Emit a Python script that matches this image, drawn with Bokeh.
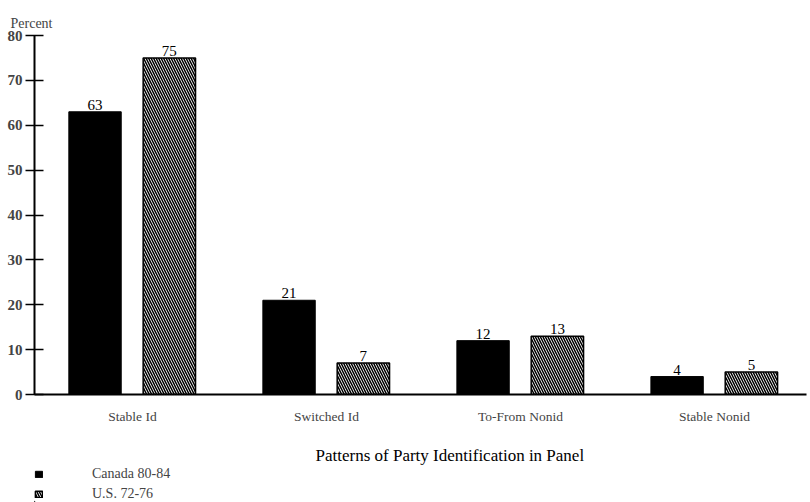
from bokeh.plotting import figure
from bokeh.layouts import column
from bokeh.models import ColumnDataSource, Range1d, FixedTicker, Legend, LegendItem, Label
from bokeh.transform import dodge
from bokeh.core.properties import value
from bokeh.embed import file_html
from bokeh.resources import INLINE

categories = ["Stable Id", "Switched Id", "To-From Nonid", "Stable Nonid"]
canada = [63, 21, 12, 4]
us = [75, 7, 13, 5]
series_names = ["Canada 80-84", "U.S. 72-76"]
y_ticks = [0, 10, 20, 30, 40, 50, 60, 70, 80]
x_title = "Patterns of Party Identification in Panel"

FONT = "Liberation Serif"
idx = list(range(len(categories)))
src = ColumnDataSource(dict(
    x=idx, canada=canada, us=us,
    canada_txt=[str(v) for v in canada], us_txt=[str(v) for v in us],
))

CAN_STYLE = dict(fill_color="black", line_color="black", line_width=1)
US_STYLE = dict(fill_color="white", line_color="black", line_width=1.5,
                hatch_pattern="\\", hatch_color="black", hatch_scale=5, hatch_weight=1.5)

H1 = 426
p = figure(width=810, height=H1, output_backend="svg", toolbar_location=None,
           x_range=Range1d(-0.505, 3.474), y_range=Range1d(0, 80),
           min_border_left=34, min_border_right=4, min_border_top=35, min_border_bottom=32)
p.outline_line_color = None
p.grid.visible = False

p.title.text = "Percent"
p.title.align = "left"
p.title.offset = -24
p.title.text_font = FONT
p.title.text_font_size = "14px"
p.title.text_font_style = "normal"
p.title.standoff = 10

p.vbar(x=dodge("x", -0.193, range=p.x_range), top="canada", width=0.27, source=src, **CAN_STYLE)
p.vbar(x=dodge("x", 0.19, range=p.x_range), top="us", width=0.27, source=src, **US_STYLE)

p.text(x=dodge("x", -0.193, range=p.x_range), y="canada", text="canada_txt", source=src,
       text_align="center", text_baseline="bottom", y_offset=-2,
       text_font=value(FONT), text_font_size="15px", text_color="black")
p.text(x=dodge("x", 0.19, range=p.x_range), y="us", text="us_txt", source=src,
       text_align="center", text_baseline="bottom", y_offset=-2,
       text_font=value(FONT), text_font_size="15px", text_color="black")

# y axis
ya = p.yaxis[0]
ya.ticker = FixedTicker(ticks=y_ticks)
ya.major_tick_in = 9
ya.major_tick_out = 9
ya.minor_tick_line_color = None
ya.axis_line_width = 2
ya.major_tick_line_width = 1.5
ya.major_label_text_font = FONT
ya.major_label_text_font_size = "15px"
ya.major_label_text_font_style = "bold"
ya.major_label_standoff = 3

# x axis
xa = p.xaxis[0]
xa.ticker = FixedTicker(ticks=idx)
xa.major_label_overrides = {i: c for i, c in zip(idx, categories)}
xa.major_tick_line_color = None
xa.minor_tick_line_color = None
xa.axis_line_width = 2
xa.major_label_text_font = FONT
xa.major_label_text_font_size = "13.5px"
xa.major_label_standoff = 8

# strip below the chart: axis title and legend
# (its frame is aligned with the main frame: x in page pixels 34..806, y pixels from bottom)
H2 = 502 - H1
p2 = figure(width=810, height=H2, output_backend="svg", toolbar_location=None,
            x_range=Range1d(34, 806), y_range=Range1d(0, H2), x_axis_type=None, y_axis_type=None,
            min_border=0, min_border_left=34, min_border_right=4, min_border_top=0, min_border_bottom=0)
p2.outline_line_color = None
p2.grid.visible = False
p2.add_layout(Label(x=315, y=H2 - 29, text=x_title, text_baseline="middle", text_align="left",
                    text_font=FONT, text_font_size="17px", text_color="black"))
# legend swatches: one off-screen bar each so the legend has a glyph to draw
dummy = ColumnDataSource(dict(x=[-1000], top=[1]))
l1 = p2.vbar(x="x", top="top", width=1, source=dummy, **CAN_STYLE)
l2 = p2.vbar(x="x", top="top", width=1, source=dummy, **US_STYLE)
legend = Legend(items=[LegendItem(label=series_names[0], renderers=[l1]),
                       LegendItem(label=series_names[1], renderers=[l2])],
                location=(0, 0), orientation="vertical",
                glyph_width=9, glyph_height=8, label_standoff=49, spacing=4,
                padding=0, margin=0, border_line_color=None, background_fill_alpha=0,
                label_text_font=FONT, label_text_font_size="14px", label_height=16)
p2.add_layout(legend, "center")

open("out.html", "w").write(file_html(column(p, p2, spacing=0), INLINE))
